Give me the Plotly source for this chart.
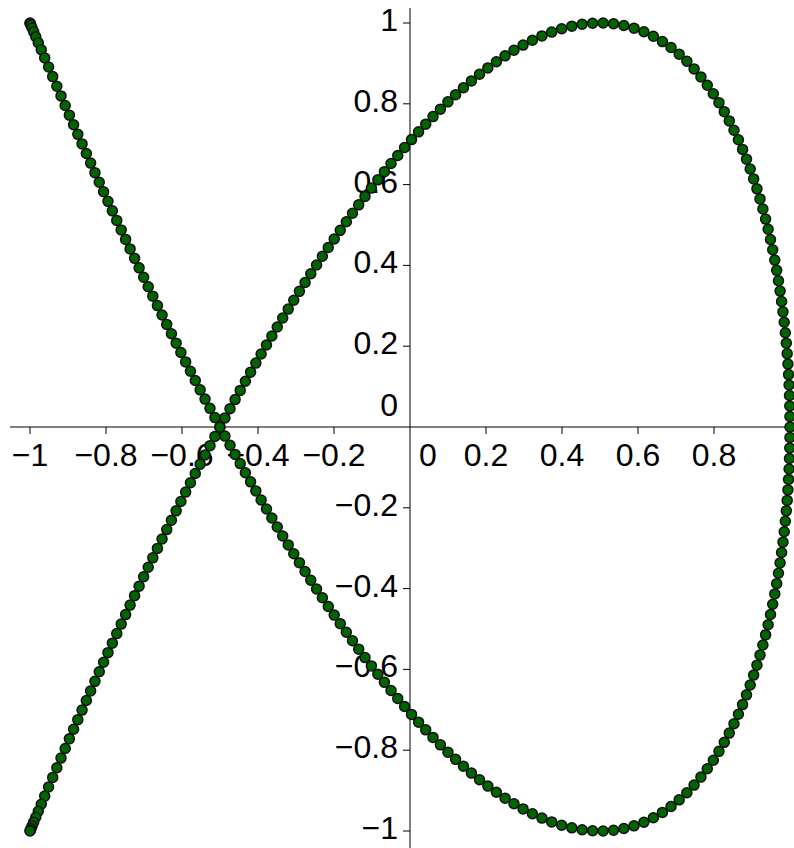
import numpy as np
import plotly.graph_objects as go

# Parametric curve: x = cos t, y = sin(3t/2), t in [-pi, pi]
T_START, T_END = -np.pi, np.pi
BASE_DT = np.pi / 90     # coarsest parameter step (2 degrees)
TARGET_GAP_PX = 10.5     # on-screen spacing wherever the curve moves fast enough

x_ticks = [-1, -0.8, -0.6, -0.4, -0.2, 0.2, 0.4, 0.6, 0.8]
y_ticks = [-1, -0.8, -0.6, -0.4, -0.2, 0.2, 0.4, 0.6, 0.8, 1]

# page geometry (pixels per unit and origin position)
W, H = 794, 848
SX, SY = 380.0, 404.0
OX, OY = 410.0, 427.0

x_range = [-OX / SX, (W - OX) / SX]
y_range = [(OY - H) / SY, OY / SY]


def curve(t):
    return np.cos(t), np.sin(1.5 * t)


# sample the parameter so that points are ~TARGET_GAP_PX apart on screen,
# but never further apart than BASE_DT in t (so points bunch up at the ends)
tt = np.linspace(T_START, T_END, 20001)
speed = np.hypot(np.sin(tt) * SX, 1.5 * np.cos(1.5 * tt) * SY)   # px per unit t
density = np.maximum(speed / TARGET_GAP_PX, 1.0 / BASE_DT)
cum = np.concatenate([[0.0], np.cumsum(0.5 * (density[1:] + density[:-1]) * np.diff(tt))])
n = int(round(cum[-1]))
ts = np.interp(np.linspace(0, cum[-1], n + 1), cum, tt)
xs, ys = curve(ts)


def fmt(v):
    s = f"{v:g}"
    return s.replace("-", "\u2212")


FONT = dict(family="Liberation Sans, Arial, sans-serif", size=32, color="black")

fig = go.Figure()

# tick labels (drawn first so the curve's points sit on top of them)
lab_dy = -31 / SY
fig.add_trace(go.Scatter(
    x=x_ticks + [18 / SX], y=[lab_dy] * (len(x_ticks) + 1),
    mode="text", text=[fmt(v) for v in x_ticks] + ["0"],
    textposition="middle center", textfont=FONT,
    hoverinfo="skip", showlegend=False,
))
lab_dx = -12 / SX
fig.add_trace(go.Scatter(
    x=[lab_dx] * (len(y_ticks) + 1), y=y_ticks + [19 / SY],
    mode="text", text=[fmt(v) for v in y_ticks] + ["0"],
    textposition="middle left", textfont=FONT,
    hoverinfo="skip", showlegend=False,
))

fig.add_trace(go.Scatter(
    x=xs, y=ys, mode="markers",
    marker=dict(size=10, color="#006400", line=dict(color="#111111", width=1.5)),
    showlegend=False, hoverinfo="skip",
))

shapes = [
    dict(type="line", xref="x", yref="y", x0=-400 / SX, x1=x_range[1], y0=0, y1=0,
         line=dict(color="black", width=1), layer="below"),
    dict(type="line", xref="x", yref="y", x0=0, x1=0, y0=y_range[0], y1=419 / SY,
         line=dict(color="black", width=1), layer="below"),
]
for v in x_ticks:
    shapes.append(dict(type="line", xref="x", yref="y", ysizemode="pixel", yanchor=0,
                       x0=v, x1=v, y0=0, y1=-7, line=dict(color="black", width=1),
                       layer="below"))
for v in y_ticks:
    shapes.append(dict(type="line", xref="x", yref="y", xsizemode="pixel", xanchor=0,
                       x0=-7, x1=0, y0=v, y1=v, line=dict(color="black", width=1),
                       layer="below"))

fig.update_layout(
    width=W, height=H, margin=dict(l=0, r=0, t=0, b=0),
    paper_bgcolor="white", plot_bgcolor="white",
    xaxis=dict(range=x_range, visible=False, fixedrange=True),
    yaxis=dict(range=y_range, visible=False, fixedrange=True),
    shapes=shapes, showlegend=False,
)

fig.write_html("out.html")
